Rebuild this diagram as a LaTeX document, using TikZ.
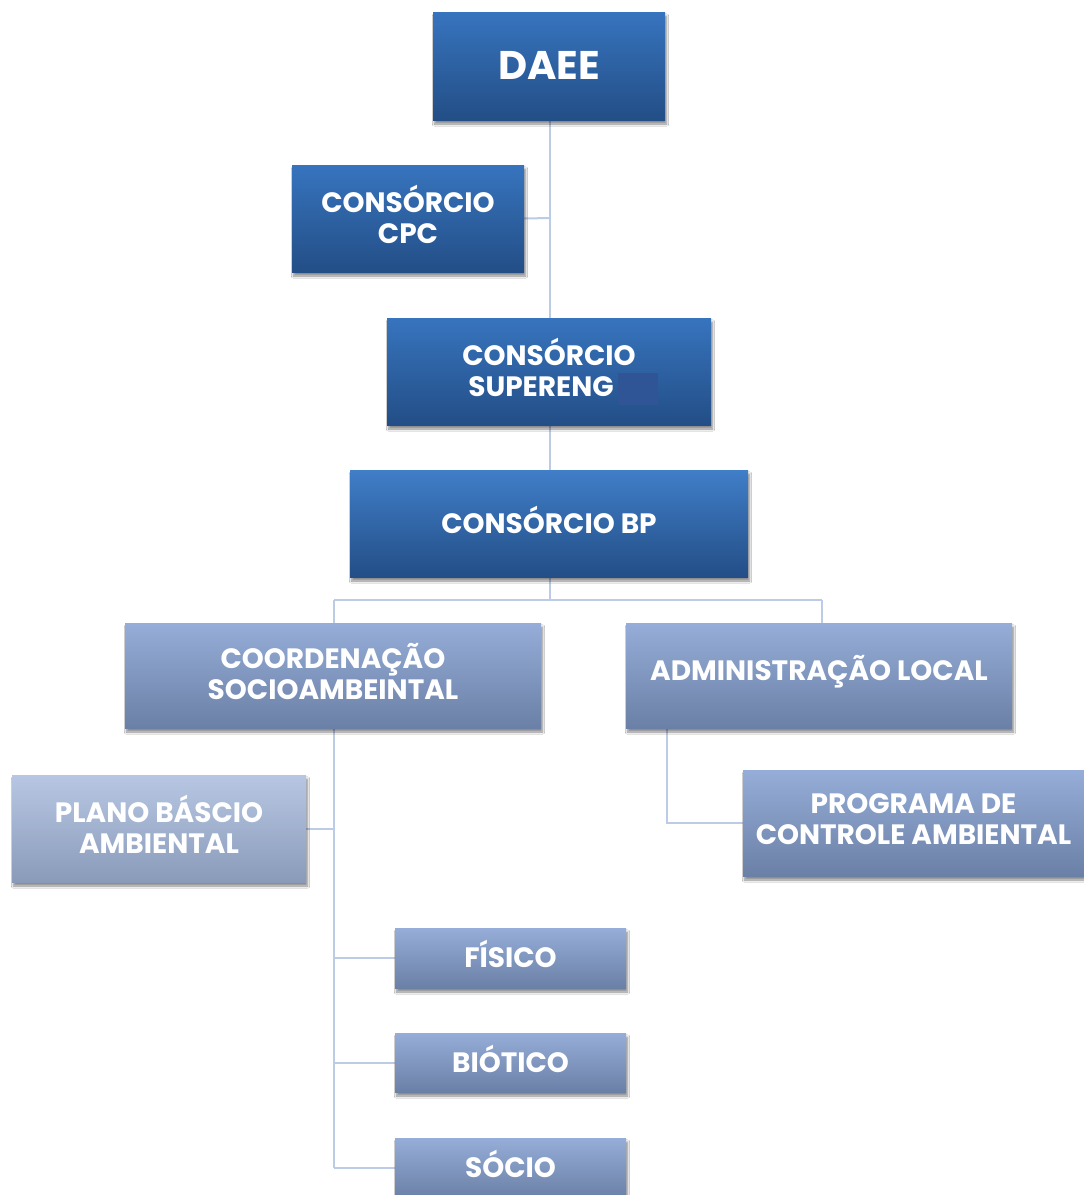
\documentclass[tikz,border=0pt]{standalone}
\usepackage{fontspec}
\setmainfont{Poppins}
\usetikzlibrary{shadows,shadows.blur,backgrounds}
\definecolor{dkTop}{HTML}{3774BE}
\definecolor{dkBot}{HTML}{234E86}
\definecolor{ltTop}{HTML}{95ADD8}
\definecolor{ltBot}{HTML}{6B80A6}
\definecolor{plTop}{HTML}{B7C7E3}
\definecolor{plBot}{HTML}{8A9BBA}
\definecolor{conn}{HTML}{BCCBE6}
\newcommand\lift[1]{\raisebox{4pt}[\height][\depth]{#1}}
\begin{document}
\begin{tikzpicture}[x=1pt,y=-1pt,
  box/.style={rectangle, inner sep=0pt, align=center, text=white,
    font=\fontsize{28}{31}\selectfont\bfseries,
    blur shadow={shadow blur steps=6, shadow xshift=1.5pt, shadow yshift=-4pt, shadow opacity=45}},
  dark/.style={box, top color=dkTop, bottom color=dkBot},
  light/.style={box, top color=ltTop, bottom color=ltBot},
  pale/.style={box, top color=plTop, bottom color=plBot},
  link/.style={draw=conn, line width=2pt}]
\useasboundingbox (0,0) rectangle (1084,1195);
% boxes
\node[dark, minimum width=232pt, minimum height=108pt, font=\fontsize{40}{42}\selectfont\bfseries] (daee) at (549,66) {\raisebox{1pt}[\height][\depth]{DAEE}};
\node[dark, minimum width=232pt, minimum height=107pt] (cpc) at (408,218.5) {\lift{CONSÓRCIO}\\\lift{CPC}};
\node[dark, minimum width=324pt, minimum height=107pt] (super) at (549,371.5) {\lift{CONSÓRCIO}\\\lift{SUPERENG\hspace{16pt}}};
\fill[fill={rgb,255:red,47;green,85;blue,151}] (618,373) rectangle (658,405);
\node[dark, minimum width=398pt, minimum height=107pt, top color={rgb,255:red,64;green,126;blue,200}] (bp) at (549,523.5) {\lift{CONSÓRCIO BP}};
\node[light, minimum width=416pt, minimum height=105pt] (coord) at (333,675.5) {\lift{COORDENAÇÃO}\\\lift{SOCIOAMBEINTAL}};
\node[light, minimum width=386pt, minimum height=105pt] (adm) at (819,675.5) {\lift{ADMINISTRAÇÃO LOCAL}};
\node[pale, minimum width=294pt, minimum height=107pt] (plano) at (159,828.5) {\lift{PLANO BÁSCIO}\\\lift{AMBIENTAL}};
\node[light, minimum width=341pt, minimum height=106pt] (prog) at (913.5,823) {\lift{PROGRAMA DE}\\\lift{CONTROLE AMBIENTAL}};
\node[light, minimum width=231pt, minimum height=60pt] (fis) at (510.5,958) {\lift{FÍSICO}};
\node[light, minimum width=231pt, minimum height=59pt] (bio) at (510.5,1062.5) {\lift{BIÓTICO}};
\node[light, minimum width=231pt, minimum height=60pt] (soc) at (510.5,1168) {\lift{SÓCIO}};
% junction points
\coordinate (bpj) at (550,600);
\coordinate (cj) at (334,600);
\coordinate (aj) at (822,600);
\coordinate (trunk) at (550,218);
\coordinate (cx) at (334,1168);
\coordinate (ax) at (667,823);
\begin{scope}[on background layer]
\fill[white] (0,0) rectangle (1084,1195);
\draw[link] (daee.south -| trunk) -- (super.north -| trunk);
\draw[link] (cpc.east) -- (trunk);
\draw[link] (super.south -| trunk) -- (bp.north -| trunk);
\draw[link] (bp.south -| trunk) -- (bpj);
\draw[link] (cj) -- (aj);
\draw[link] (cj) -- (coord.north -| cj);
\draw[link] (aj) -- (adm.north -| aj);
\draw[link] (coord.south -| cj) -- (cx);
\draw[link] (plano.east) -- (plano.east -| cj);
\draw[link] (fis.west -| cj) -- (fis.west);
\draw[link] (bio.west -| cj) -- (bio.west);
\draw[link] (cx) -- (soc.west);
\draw[link] (adm.south -| ax) -- (ax) -- (prog.west);
\end{scope}
\end{tikzpicture}
\end{document}
